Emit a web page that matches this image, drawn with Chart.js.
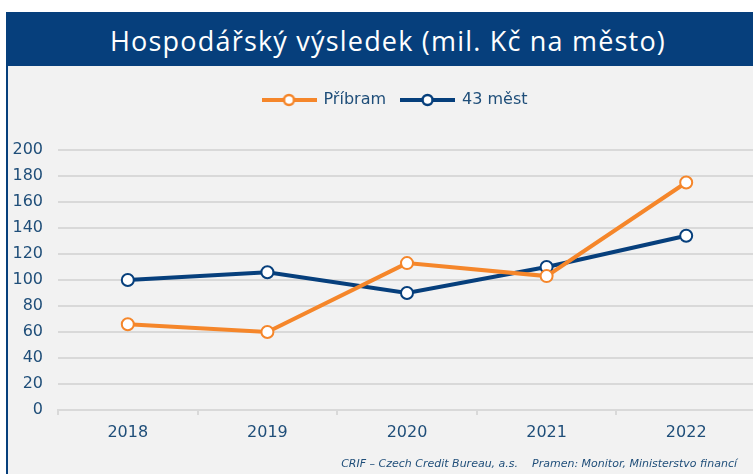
<!DOCTYPE html>
<html>
<head>
<meta charset="utf-8">
<script src="https://cdn.jsdelivr.net/npm/chart.js@4/dist/chart.umd.min.js"></script>
<style>
  html, body { margin: 0; padding: 0; width: 753px; height: 474px; overflow: hidden; background: #fff; }
  #frame { position: absolute; left: 6px; top: 12px; width: 764px; height: 470px; background: #f2f2f2; border-left: 2px solid #063f7c; }
  #title { position: absolute; left: 0; top: 0; width: 760px; height: 54px; background: #063f7c; color: #fff;
    font: 27px "Open Sans", sans-serif; letter-spacing: 1.2px; text-align: center; line-height: 57px; }
  #wrap { position: absolute; left: -8px; top: 54px; width: 764px; height: 408px; }
  #note { position: absolute; right: 35px; top: 445px; font: italic 11px "DejaVu Sans", sans-serif; color: #1f4e79; white-space: pre; }
</style>
</head>
<body>
<div id="frame">
  <div id="title">Hospodářský výsledek (mil. Kč na město)</div>
  <div id="wrap"><canvas id="chart" width="764" height="408"></canvas></div>
  <div id="note">CRIF – Czech Credit Bureau, a.s.    Pramen: Monitor, Ministerstvo financí</div>
</div>
<script>
"use strict";

const years = ['2018', '2019', '2020', '2021', '2022'];
const pribram = [66, 60, 113, 103, 175];
const mest43 = [100, 106, 90, 110, 134];
const yTicks = [0, 20, 40, 60, 80, 100, 120, 140, 160, 180, 200];

const ORANGE = '#f5862a';
const NAVY = '#063f7c';
const TEXT = '#1f4e79';

function legendIcon(color) {
  const c = document.createElement('canvas');
  c.width = 55;
  c.height = 14;
  const ctx = c.getContext('2d');
  ctx.strokeStyle = color;
  ctx.lineWidth = 4;
  ctx.beginPath();
  ctx.moveTo(0, 7);
  ctx.lineTo(55, 7);
  ctx.stroke();
  ctx.fillStyle = '#fff';
  ctx.lineWidth = 2.5;
  ctx.beginPath();
  ctx.arc(27.5, 7, 5, 0, Math.PI * 2);
  ctx.fill();
  ctx.stroke();
  return c;
}

function series(label, values, color) {
  return {
    label: label,
    data: values,
    borderColor: color,
    backgroundColor: '#fff',
    borderWidth: 4,
    pointRadius: 6,
    pointBorderWidth: 2,
    pointBackgroundColor: '#fff',
    pointBorderColor: color,
    pointStyle: 'circle',
    tension: 0,
  };
}

const icons = [legendIcon(ORANGE), legendIcon(NAVY)];

// extra room under the legend, and nudge it right a bit
const legendTweak = {
  id: 'legendTweak',
  beforeInit(chart) {
    const legend = chart.legend;
    const fit = legend.fit.bind(legend);
    legend.fit = function () {
      fit();
      this.height += 32;
    };
  },
  afterLayout(chart) {
    chart.legend.left += 17;
    chart.legend.right += 17;
  },
};

new Chart(document.getElementById('chart'), {
  type: 'line',
  data: {
    labels: years,
    datasets: [
      series('Příbram', pribram, ORANGE),
      series('43 měst', mest43, NAVY),
    ],
  },
  plugins: [legendTweak],
  options: {
    responsive: false,
    animation: false,
    layout: { padding: { top: 11, right: 8, bottom: 0, left: 0 } },
    plugins: {
      tooltip: { enabled: false },
      legend: {
        position: 'top',
        labels: {
          usePointStyle: true,
          pointStyleWidth: 53,
          padding: 15,
          color: TEXT,
          font: { family: 'DejaVu Sans', size: 16 },
          generateLabels(chart) {
            return chart.data.datasets.map((ds, i) => ({
              text: ds.label,
              pointStyle: icons[i],
              fontColor: TEXT,
              datasetIndex: i,
              hidden: false,
              lineWidth: 0,
            }));
          },
        },
      },
    },
    scales: {
      x: {
        offset: true,
        border: { color: '#d9d9d9', width: 2 },
        grid: { drawOnChartArea: false, drawTicks: true, tickLength: 5, offset: true, color: '#d9d9d9', lineWidth: 2 },
        ticks: { color: TEXT, font: { family: 'DejaVu Sans', size: 16 }, padding: 8 },
        afterFit(scale) { scale.height = 64; },
      },
      y: {
        min: 0,
        max: 200,
        border: { display: false },
        grid: { color: '#d9d9d9', lineWidth: 2, drawTicks: false },
        afterBuildTicks(scale) { scale.ticks = yTicks.map(v => ({ value: v })); },
        ticks: { color: TEXT, font: { family: 'DejaVu Sans', size: 16 }, padding: 15 },
        afterFit(scale) { scale.width = 58; },
      },
    },
  },
});
</script>
</body>
</html>
